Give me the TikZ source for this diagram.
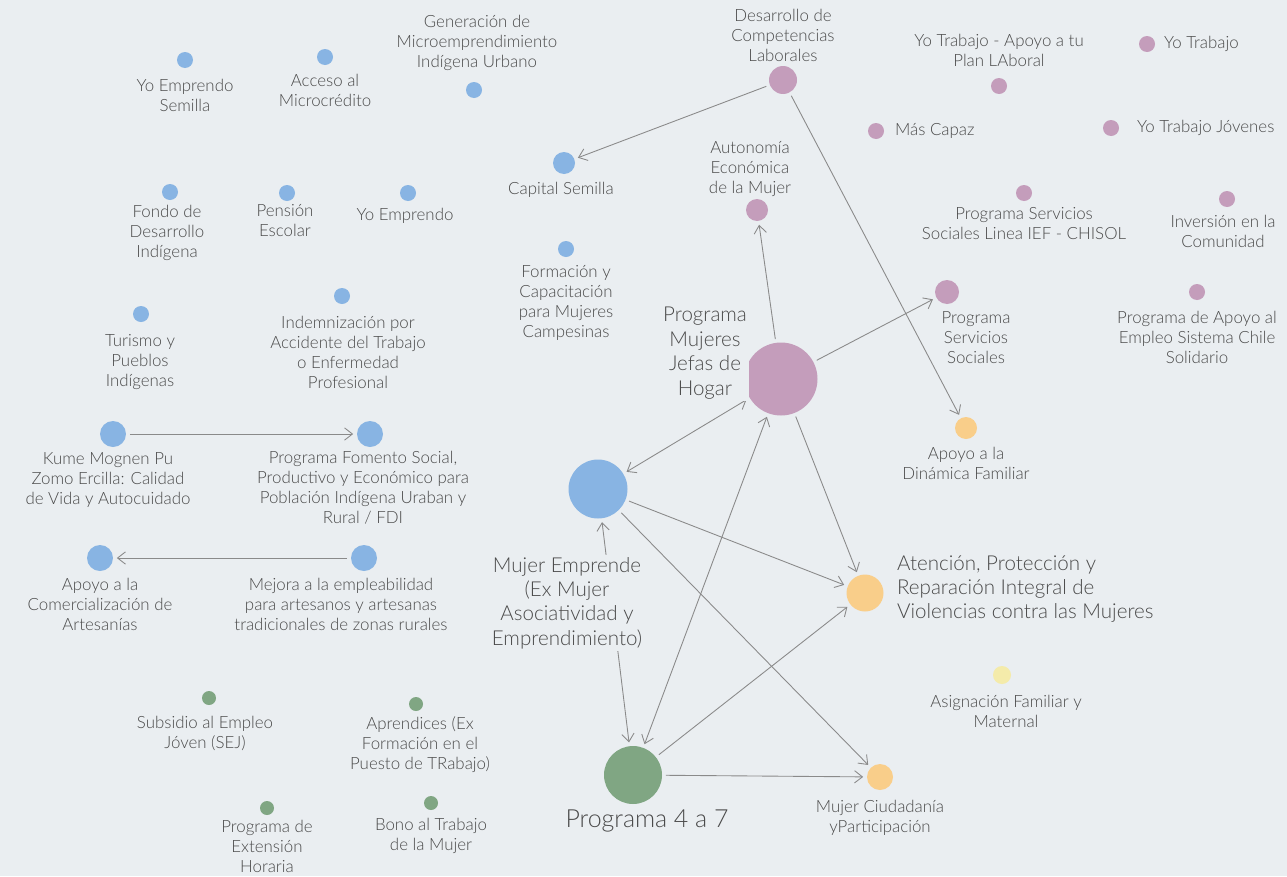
\documentclass[tikz,border=0pt]{standalone}
\usepackage{fontspec}
\setmainfont{Lato}[UprightFont={* Light}]
\usetikzlibrary{arrows.meta}
\definecolor{fondo}{HTML}{EAEEF1}
\definecolor{cazul}{HTML}{88B4E3}
\definecolor{clila}{HTML}{C49DBB}
\definecolor{cnaranja}{HTML}{F9CE8A}
\definecolor{camarillo}{HTML}{F4EBAA}
\definecolor{cverde}{HTML}{80A683}
\definecolor{texto}{HTML}{4A4A4A}
\definecolor{linea}{HTML}{8A8A8A}

\begin{document}
\begin{tikzpicture}[x=0.02cm, y=-0.02cm,
  prog/.style={circle, inner sep=0pt, minimum size=#1},
  azul/.style={prog=#1, fill=cazul},
  lila/.style={prog=#1, fill=clila},
  naranja/.style={prog=#1, fill=cnaranja},
  amarillo/.style={prog=#1, fill=camarillo},
  verde/.style={prog=#1, fill=cverde},
  etiq/.style={text=texto, align=center, fill=fondo, inner sep=1pt, font=\fontsize{9.6}{11.4}\selectfont},
  grande/.style={etiq, font=\fontsize{11.7}{13.9}\selectfont},
  >={Straight Barb[length=4.5pt,width=7pt]},
  every edge/.style={draw=linea, line width=.5pt, shorten >=2pt, shorten <=2pt}]
\fill[fondo] (0,0) rectangle (1287,876);
\useasboundingbox (0,0) rectangle (1287,876);

% programas (azul)
\node[azul=0.32cm] (ysem) at (185,60) {};
\node[azul=0.32cm] (micro) at (325,57) {};
\node[azul=0.32cm] (gmiu) at (474,90) {};
\node[azul=0.44cm] (csem) at (564,163) {};
\node[azul=0.32cm] (fdi) at (170,192) {};
\node[azul=0.32cm] (pesc) at (287,193) {};
\node[azul=0.32cm] (yemp) at (408,193) {};
\node[azul=0.32cm] (fcmc) at (566,249) {};
\node[azul=0.32cm] (tpi) at (141,314) {};
\node[azul=0.32cm] (indem) at (342,296) {};
\node[azul=0.52cm] (kume) at (113,434) {};
\node[azul=0.52cm] (fdi2) at (370,434) {};
\node[azul=0.52cm] (aca) at (100,558) {};
\node[azul=0.52cm] (mejora) at (364,558) {};
\node[azul=1.18cm] (me) at (598,489) {};

% programas (lila)
\node[lila=0.56cm] (dcl) at (783,80) {};
\node[lila=0.32cm] (ytapl) at (999,86) {};
\node[lila=0.32cm] (yt) at (1147,44) {};
\node[lila=0.32cm] (mc) at (876,131) {};
\node[lila=0.32cm] (ytj) at (1111,128) {};
\node[lila=0.44cm] (aem) at (757,210) {};
\node[lila=0.32cm] (chisol) at (1024,193) {};
\node[lila=0.32cm] (inv) at (1227,199) {};
\node[lila=0.48cm] (pss) at (947,292) {};
\node[lila=0.32cm] (paesc) at (1197,292) {};
\node[lila=1.46cm] (pmjh) at (781,379) {};

% programas (naranja, amarillo)
\node[naranja=0.44cm] (adf) at (966,428) {};
\node[naranja=0.74cm] (apr) at (865,593) {};
\node[naranja=0.52cm] (mcp) at (880,777) {};
\node[amarillo=0.36cm] (afm) at (1002,675) {};

% programas (verde)
\node[verde=0.28cm] (sej) at (209,698) {};
\node[verde=0.28cm] (apre) at (416,704) {};
\node[verde=0.28cm] (peh) at (267,808) {};
\node[verde=0.28cm] (btm) at (431,803) {};
\node[verde=1.16cm] (p47) at (633,775) {};

% relaciones
\draw[->] (dcl) edge (csem);
\draw[->] (dcl) edge (adf);
\draw[->] (pmjh) edge (aem);
\draw[->] (pmjh) edge (pss);
\draw[<->] (pmjh) edge (me);
\draw[->] (pmjh) edge (apr);
\draw[<->] (pmjh) edge (p47);
\draw[<->] (me) edge (p47);
\draw[->] (me) edge (apr);
\draw[->] (me) edge (mcp);
\draw[->] (p47) edge (apr);
\draw[->] (p47) edge (mcp);
\draw[->] (kume) edge (fdi2);
\draw[->] (mejora) edge (aca);

% etiquetas
\node[etiq] (l-ysem) at (185,95) {Yo Emprendo\\Semilla};
\node[etiq] (l-micro) at (325,90) {Acceso al\\Microcrédito};
\node[etiq] (l-gmiu) at (477,43) {Generación de\\Microemprendimiento\\Indígena Urbano};
\node[etiq] (l-csem) at (561,190) {Capital Semilla};
\node[etiq] (l-fdi) at (167,233) {Fondo de\\Desarrollo\\Indígena};
\node[etiq] (l-pesc) at (285,221) {Pensión\\Escolar};
\node[etiq] (l-yemp) at (405,216) {Yo Emprendo};
\node[etiq] (l-fcmc) at (566,303) {Formación y\\Capacitación\\para Mujeres\\Campesinas};
\node[etiq] (l-tpi) at (140,362) {Turismo y\\Pueblos\\Indígenas};
\node[etiq] (l-indem) at (348,352) {Indemnización por\\Accidente del Trabajo\\o Enfermedad\\Profesional};
\node[etiq] (l-kume) at (108,480) {Kume Mognen Pu\\Zomo Ercilla: Calidad\\de Vida y Autocuidado};
\node[etiq] (l-fdi2) at (363,488) {Programa Fomento Social,\\Productivo y Económico para\\Población Indígena Uraban y\\Rural / FDI};
\node[etiq] (l-aca) at (100,604) {Apoyo a la\\Comercialización de\\Artesanías};
\node[etiq] (l-mejora) at (341,604) {Mejora a la empleabilidad\\para artesanos y artesanas\\tradicionales de zonas rurales};
\node[grande] (l-me) at (567,603) {Mujer Emprende\\(Ex Mujer\\Asociatividad y\\Emprendimiento)};

\node[etiq] (l-dcl) at (783,35) {Desarrollo de\\Competencias\\Laborales};
\node[etiq] (l-ytapl) at (999,50) {Yo Trabajo - Apoyo a tu\\Plan LAboral};
\node[etiq, anchor=west] (l-yt) at (1162,44) {Yo Trabajo};
\node[etiq, anchor=west] (l-mc) at (893,131) {Más Capaz};
\node[etiq, anchor=west] (l-ytj) at (1135,128) {Yo Trabajo Jóvenes};
\node[etiq] (l-aem) at (750,169) {Autonomía\\Económica\\de la Mujer};
\node[etiq] (l-chisol) at (1024,224) {Programa Servicios\\Sociales Linea IEF - CHISOL};
\node[etiq] (l-inv) at (1223,231) {Inversión en la\\Comunidad};
\node[etiq] (l-pss) at (976,338) {Programa\\Servicios\\Sociales};
\node[etiq] (l-paesc) at (1197,337) {Programa de Apoyo al\\Empleo Sistema Chile\\Solidario};
\node[grande] (l-pmjh) at (705,353) {Programa\\Mujeres\\Jefas de\\Hogar};

\node[etiq] (l-adf) at (966,463) {Apoyo a la\\Dinámica Familiar};
\node[grande, align=left, anchor=west] (l-apr) at (895,589) {Atención, Protección y\\Reparación Integral de\\Violencias contra las Mujeres};
\node[etiq] (l-afm) at (1006,711) {Asignación Familiar y\\Maternal};
\node[etiq] (l-mcp) at (880,818) {Mujer Ciudadanía\\yParticipación};

\node[etiq] (l-sej) at (205,733) {Subsidio al Empleo\\Jóven (SEJ)};
\node[etiq] (l-apre) at (420,745) {Aprendices (Ex\\Formación en el\\Puesto de TRabajo)};
\node[etiq] (l-peh) at (267,846) {Programa de\\Extensión\\Horaria};
\node[etiq] (l-btm) at (431,836) {Bono al Trabajo\\de la Mujer};
\node[etiq, font=\fontsize{14.2}{16}\selectfont] (l-p47) at (647,821) {Programa 4 a 7};
\end{tikzpicture}
\end{document}
